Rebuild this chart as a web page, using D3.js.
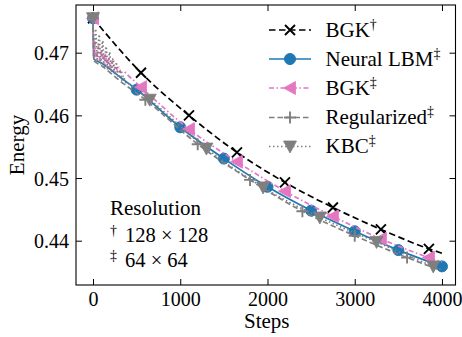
<!DOCTYPE html>
<html>
<head>
<meta charset="utf-8">
<script src="https://cdn.jsdelivr.net/npm/d3@7"></script>
<style>
  html, body { margin: 0; padding: 0; background: #fff; }
  svg { display: block; }
  text { font-family: "Liberation Serif", "DejaVu Serif", serif; fill: #000; }
</style>
</head>
<body>
<svg id="chart" width="462" height="337"></svg>
<script>
// ---------------- data ----------------
const xTicks = [0, 1000, 2000, 3000, 4000];
const yTicks = [0.44, 0.45, 0.46, 0.47];

// BGK (128x128)
const bgk128Steps  = [0, 550, 1100, 1650, 2200, 2750, 3300, 3850, 4000];
const bgk128Energy = [0.4755, 0.4668, 0.4600, 0.4541, 0.4493, 0.4453, 0.4418, 0.4387, 0.4380];
const bgk128Markers = [0, 550, 1100, 1650, 2200, 2750, 3300, 3850];

// Neural LBM (64x64)
const neuralSteps  = [0, 10, 100, 320, 500, 1000, 1500, 2000, 2500, 3000, 3500, 4000];
const neuralEnergy = [0.4755, 0.4690, 0.4683, 0.4660, 0.4641, 0.4581, 0.4531, 0.4486, 0.4448, 0.4415, 0.4385, 0.4359];
const neuralMarkers = [0, 500, 1000, 1500, 2000, 2500, 3000, 3500, 4000];

// BGK (64x64)
const bgk64Steps  = [0, 10, 20, 40, 60, 80, 100, 120, 140, 160, 180, 200, 220, 240, 260, 280, 300, 320, 350, 400,
                     550, 1100, 1650, 2200, 2750, 3300, 3850, 4000];
const bgk64Energy = [0.4755, 0.4690, 0.4718, 0.4688, 0.4712, 0.4686, 0.4706, 0.4684, 0.4699, 0.4678, 0.4692, 0.4674,
                     0.4687, 0.4672, 0.4682, 0.4670, 0.4677, 0.4668, 0.4670, 0.4664,
                     0.4645, 0.4578, 0.4526, 0.4479, 0.4439, 0.4403, 0.4373, 0.4366];
const bgk64Markers = [0, 550, 1100, 1650, 2200, 2750, 3300, 3850];

// Regularized (64x64)
const regSteps  = [0, 10, 100, 300, 600, 1200, 1800, 2400, 3000, 3600, 3980];
const regEnergy = [0.4755, 0.4688, 0.4679, 0.4656, 0.4625, 0.4554, 0.4497, 0.4447, 0.4408, 0.4373, 0.4353];
const regMarkers = [0, 600, 1200, 1800, 2400, 3000, 3600];

// KBC (64x64)
const kbcSteps  = [0, 10, 30, 50, 70, 90, 110, 130, 150, 170, 190, 210, 230, 250, 270, 290, 310, 330, 350, 370, 400,
                   650, 1300, 1950, 2600, 3250, 3900, 3990];
const kbcEnergy = [0.4755, 0.4690, 0.4738, 0.4686, 0.4729, 0.4682, 0.4719, 0.4677, 0.4710, 0.4673, 0.4701, 0.4669,
                   0.4691, 0.4665, 0.4682, 0.4660, 0.4672, 0.4656, 0.4663, 0.4653, 0.4651,
                   0.4625, 0.4547, 0.4485, 0.4437, 0.4398, 0.4359, 0.4354];
const kbcMarkers = [0, 650, 1300, 1950, 2600, 3250, 3900];

const seriesNames = ["BGK", "Neural LBM", "BGK", "Regularized", "KBC"];
const seriesMarks = ["†", "‡", "‡", "‡", "‡"];

// ---------------- layout ----------------
const svg = d3.select("#chart");
const L = 76, R = 455.5, T = 5, B = 285;
const x = d3.scaleLinear().domain([-195, 4155]).range([L, R]);
const y = d3.scaleLinear().domain([0.43293, 0.47761]).range([B, T]);

const series = [
  { steps: bgk128Steps, energy: bgk128Energy, markers: bgk128Markers, color: "#000000", dash: "6.5,3.5", marker: "x" },
  { steps: neuralSteps, energy: neuralEnergy, markers: neuralMarkers, color: "#1f77b4", dash: null, marker: "o" },
  { steps: bgk64Steps, energy: bgk64Energy, markers: bgk64Markers, color: "#e377c2", dash: "5,2.5,1.5,2.5", marker: "<" },
  { steps: regSteps, energy: regEnergy, markers: regMarkers, color: "#7f7f7f", dash: "5.5,3", marker: "+" },
  { steps: kbcSteps, energy: kbcEnergy, markers: kbcMarkers, color: "#7f7f7f", dash: "1.5,2.5", marker: "v" }
];

function drawMarker(g, type, color) {
  if (type === "x") {
    g.append("path").attr("d", "M-5,-5L5,5M-5,5L5,-5").attr("stroke", color).attr("stroke-width", 1.9).attr("fill", "none");
  } else if (type === "o") {
    g.append("circle").attr("r", 5.5).attr("fill", color).attr("stroke", color).attr("stroke-width", 1);
  } else if (type === "<") {
    g.append("path").attr("d", "M-6.5,0L5.5,-6.5L5.5,6.5Z").attr("fill", color).attr("stroke", color).attr("stroke-width", 0.8);
  } else if (type === "+") {
    g.append("path").attr("d", "M-6,0L6,0M0,-6L0,6").attr("stroke", color).attr("stroke-width", 1.9).attr("fill", "none");
  } else if (type === "v") {
    g.append("path").attr("d", "M0,6.5L-6.5,-5.5L6.5,-5.5Z").attr("fill", color).attr("stroke", color).attr("stroke-width", 0.8);
  }
}

svg.append("clipPath").attr("id", "plotclip")
  .append("rect").attr("x", L).attr("y", T).attr("width", R - L).attr("height", B - T);

const plot = svg.append("g").attr("clip-path", "url(#plotclip)");
const line = d3.line().x(d => x(d[0])).y(d => y(d[1])).curve(d3.curveMonotoneX);

series.forEach(s => {
  const pts = s.steps.map((st, i) => [st, s.energy[i]]);
  const p = plot.append("path").datum(pts)
    .attr("d", line).attr("fill", "none")
    .attr("stroke", s.color).attr("stroke-width", 1.7)
    .attr("stroke-linejoin", "round");
  if (s.dash) p.attr("stroke-dasharray", s.dash);
  s.markers.forEach(ms => {
    const i = s.steps.indexOf(ms);
    const g = plot.append("g").attr("transform", `translate(${x(ms)},${y(s.energy[i])})`);
    drawMarker(g, s.marker, s.color);
  });
});

// ---------------- axes (inward ticks, mirrored) ----------------
const tickLen = 6;
const axB = svg.append("g").attr("transform", `translate(0,${B})`).call(d3.axisBottom(x).tickValues(xTicks).tickSizeInner(-tickLen).tickSizeOuter(0).tickPadding(10).tickFormat(d3.format("d")));
const axT = svg.append("g").attr("transform", `translate(0,${T})`).call(d3.axisTop(x).tickValues(xTicks).tickSizeInner(-tickLen).tickSizeOuter(0).tickFormat(""));
const axL = svg.append("g").attr("transform", `translate(${L},0)`).call(d3.axisLeft(y).tickValues(yTicks).tickSizeInner(-tickLen).tickSizeOuter(0).tickPadding(7).tickFormat(d3.format(".2f")));
const axR = svg.append("g").attr("transform", `translate(${R},0)`).call(d3.axisRight(y).tickValues(yTicks).tickSizeInner(-tickLen).tickSizeOuter(0).tickFormat(""));

[axB, axT, axL, axR].forEach(a => {
  a.select(".domain").remove();
  a.selectAll(".tick line").attr("stroke", "#000").attr("stroke-width", 1);
  a.selectAll("text").attr("font-size", 20).attr("font-family", "Liberation Serif, serif").attr("fill", "#000");
});
axB.selectAll(".tick text").attr("dy", null).attr("y", 21);
axL.selectAll(".tick text").attr("dy", "0.35em").attr("x", -7);

svg.append("rect").attr("x", L).attr("y", T).attr("width", R - L).attr("height", B - T)
  .attr("fill", "none").attr("stroke", "#000").attr("stroke-width", 1.1);

// axis labels
svg.append("text").attr("x", (L + R) / 2 + 1).attr("y", 328).attr("text-anchor", "middle").attr("font-size", 21).text("Steps");
svg.append("text").attr("transform", "translate(24,145) rotate(-90)").attr("text-anchor", "middle").attr("font-size", 21).text("Energy");

// ---------------- legend ----------------
const legRows = [30, 59, 88, 117.5, 146.5];
const leg = svg.append("g");
series.forEach((s, i) => {
  const cy = legRows[i];
  const l = leg.append("line").attr("x1", 269).attr("x2", 311).attr("y1", cy).attr("y2", cy)
    .attr("stroke", s.color).attr("stroke-width", 1.7);
  if (s.dash) l.attr("stroke-dasharray", s.dash);
  const g = leg.append("g").attr("transform", `translate(290,${cy})`);
  drawMarker(g, s.marker, s.color);
  const t = leg.append("text").attr("x", 325.5).attr("y", cy + 6.5).attr("font-size", 21);
  t.append("tspan").text(seriesNames[i]);
  t.append("tspan").attr("font-size", 14).attr("dy", -8).text(seriesMarks[i]);
});

// resolution annotation
svg.append("text").attr("x", 110).attr("y", 215).attr("font-size", 21).text("Resolution");
svg.append("text").attr("x", 110).attr("y", 235).attr("font-size", 14).text("†");
svg.append("text").attr("x", 125).attr("y", 241.7).attr("font-size", 20.5).text("128 × 128");
svg.append("text").attr("x", 110).attr("y", 260).attr("font-size", 14).text("‡");
svg.append("text").attr("x", 125).attr("y", 266.7).attr("font-size", 20.5).text("64 × 64");
</script>
</body>
</html>
